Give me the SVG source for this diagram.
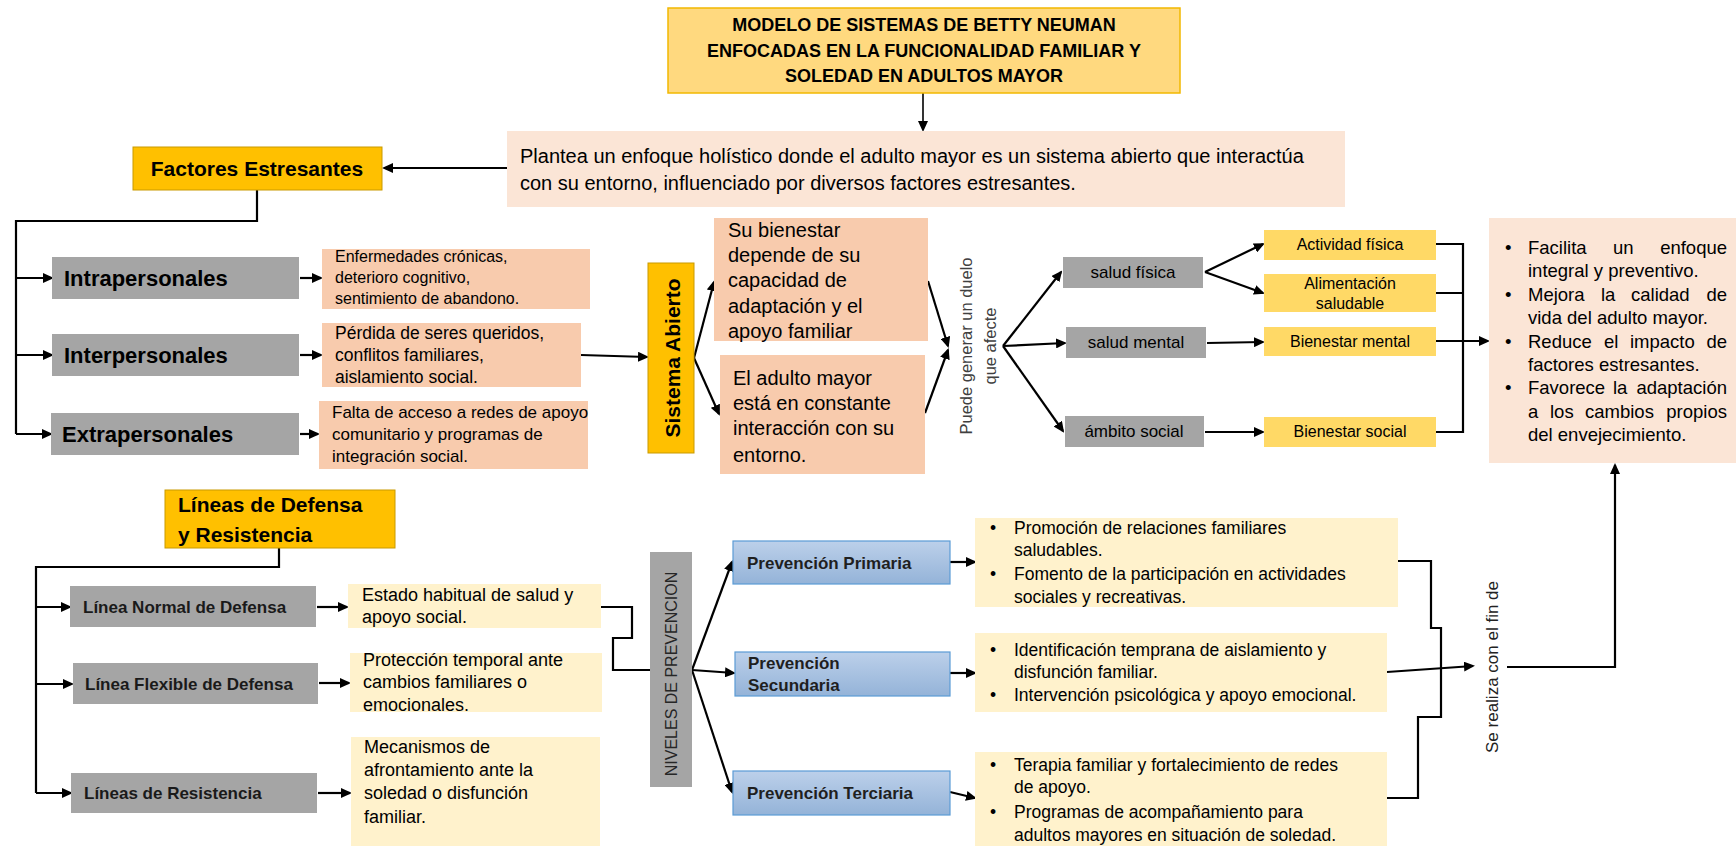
<svg xmlns="http://www.w3.org/2000/svg" width="1736" height="846" viewBox="0 0 1736 846">
<defs>
<marker id="ah" markerUnits="userSpaceOnUse" markerWidth="11" markerHeight="10" refX="9" refY="5" orient="auto"><path d="M0,0 L11,5 L0,10 Z" fill="#000"/></marker>
<linearGradient id="blue" x1="0" y1="0" x2="0" y2="1"><stop offset="0" stop-color="#BCD0EA"/><stop offset="1" stop-color="#94B3D8"/></linearGradient>
</defs>
<style>
text{font-family:"Liberation Sans",Arial,sans-serif;fill:#000}
.b{font-weight:bold}
.c{stroke:#000;stroke-width:2.2;fill:none}
.a{marker-end:url(#ah)}
.gray{fill:#A5A5A5}
.salmon{fill:#F8CBAD}
.pink{fill:#FBE5D6}
.gold{fill:#FFC000;stroke:#C99A00;stroke-width:1}
.yel{fill:#FFD966}
.lyel{fill:#FFF2CC}
.blue{fill:url(#blue);stroke:#5B9BD5;stroke-width:1.2}
.rot{text-anchor:middle;dominant-baseline:central}
</style>
<rect width="1736" height="846" fill="#fff"/>

<g id="connectors">
<line class="c a" x1="923" y1="93" x2="923" y2="130" style="stroke-width:1.6"/>
<line class="c a" x1="507" y1="168" x2="384" y2="168"/>
<path class="c" d="M257,190 V221 H16 V434"/>
<line class="c a" x1="16" y1="278" x2="52" y2="278"/>
<line class="c a" x1="16" y1="355" x2="52" y2="355"/>
<line class="c a" x1="16" y1="434" x2="51" y2="434"/>
<line class="c a" x1="300" y1="278" x2="321" y2="278"/>
<line class="c a" x1="300" y1="355" x2="321" y2="355"/>
<line class="c a" x1="300" y1="434" x2="318" y2="434"/>
<line class="c a" x1="581" y1="355" x2="647" y2="357"/>
<line class="c a" x1="694" y1="358" x2="714" y2="282"/>
<line class="c a" x1="694" y1="358" x2="719" y2="414"/>
<line class="c a" x1="928" y1="281" x2="948" y2="346"/>
<line class="c a" x1="925" y1="413" x2="948" y2="350"/>
<line class="c a" x1="1003" y1="346" x2="1061" y2="272"/>
<line class="c a" x1="1003" y1="346" x2="1065" y2="343"/>
<line class="c a" x1="1003" y1="346" x2="1063" y2="431"/>
<line class="c a" x1="1205" y1="272" x2="1263" y2="244"/>
<line class="c a" x1="1205" y1="272" x2="1263" y2="293"/>
<line class="c a" x1="1207" y1="343" x2="1263" y2="342"/>
<line class="c a" x1="1205" y1="432" x2="1263" y2="432"/>
<path class="c" d="M1436,244 H1463 V432 H1436 M1436,293 H1463"/>
<line class="c a" x1="1436" y1="341" x2="1488" y2="341"/>
<path class="c" d="M279,548 V567 H36 V793"/>
<line class="c a" x1="36" y1="607" x2="70" y2="607"/>
<line class="c a" x1="36" y1="684" x2="72" y2="684"/>
<line class="c a" x1="36" y1="793" x2="71" y2="793"/>
<line class="c a" x1="317" y1="607" x2="347" y2="607"/>
<line class="c a" x1="319" y1="683" x2="349" y2="683"/>
<line class="c a" x1="318" y1="793" x2="350" y2="793"/>
<path class="c" d="M601,607 H632 V638 H613 V670 H650"/>
<line class="c a" x1="692" y1="670" x2="732" y2="562"/>
<line class="c a" x1="692" y1="670" x2="734" y2="673"/>
<line class="c a" x1="692" y1="670" x2="732" y2="792"/>
<line class="c a" x1="950" y1="562" x2="975" y2="562"/>
<line class="c a" x1="950" y1="673" x2="975" y2="673"/>
<line class="c a" x1="950" y1="792" x2="975" y2="798"/>
<path class="c" d="M1398,561 H1431 V628 H1441 V717 H1418 V798 H1387"/>
<line class="c a" x1="1387" y1="672" x2="1473" y2="666"/>
<path class="c a" d="M1507,667 H1615 V465"/>
</g>

<g id="title">
<rect x="668" y="8" width="512" height="85" fill="#FFD97F" stroke="#F2B800" stroke-width="1.5"/>
<text class="b" font-size="18" text-anchor="middle"><tspan x="924" y="31">MODELO DE SISTEMAS DE BETTY NEUMAN</tspan><tspan x="924" y="57">ENFOCADAS EN LA FUNCIONALIDAD FAMILIAR Y</tspan><tspan x="924" y="82">SOLEDAD EN ADULTOS MAYOR</tspan></text>
</g>

<g id="plantea">
<rect class="pink" x="507" y="131" width="838" height="76"/>
<text font-size="20"><tspan x="520" y="163">Plantea un enfoque holístico donde el adulto mayor es un sistema abierto que interactúa</tspan><tspan x="520" y="190">con su entorno, influenciado por diversos factores estresantes.</tspan></text>
</g>

<g id="factores">
<rect class="gold" x="133" y="147" width="249" height="43"/>
<text class="b" font-size="21" x="257" y="176" text-anchor="middle">Factores Estresantes</text>
</g>

<g id="intrapersonales">
<rect class="gray" x="52" y="257" width="247" height="42"/>
<text class="b" font-size="22" x="64" y="286">Intrapersonales</text>
</g>
<g id="interpersonales">
<rect class="gray" x="52" y="334" width="247" height="42"/>
<text class="b" font-size="22" x="64" y="363">Interpersonales</text>
</g>
<g id="extrapersonales">
<rect class="gray" x="51" y="413" width="248" height="42"/>
<text class="b" font-size="22" x="62" y="442">Extrapersonales</text>
</g>

<g id="enfermedades">
<rect class="salmon" x="322" y="249" width="268" height="60"/>
<text font-size="16"><tspan x="335" y="262">Enfermedades crónicas,</tspan><tspan x="335" y="283">deterioro cognitivo,</tspan><tspan x="335" y="304">sentimiento de abandono.</tspan></text>
</g>
<g id="perdida">
<rect class="salmon" x="322" y="323" width="259" height="64"/>
<text font-size="17.5"><tspan x="335" y="339">Pérdida de seres queridos,</tspan><tspan x="335" y="361">conflitos familiares,</tspan><tspan x="335" y="383">aislamiento social.</tspan></text>
</g>
<g id="falta">
<rect class="salmon" x="319" y="401" width="269" height="68"/>
<text font-size="17"><tspan x="332" y="418">Falta de acceso a redes de apoyo</tspan><tspan x="332" y="440">comunitario y programas de</tspan><tspan x="332" y="462">integración social.</tspan></text>
</g>

<g id="sistema-abierto">
<rect class="gold" x="648" y="263" width="46" height="190"/>
<text class="b rot" font-size="21" transform="translate(672,358) rotate(-90)">Sistema Abierto</text>
</g>

<g id="su-bienestar">
<rect class="salmon" x="714" y="218" width="214" height="123"/>
<text font-size="20"><tspan x="728" y="237">Su bienestar</tspan><tspan x="728" y="262">depende de su</tspan><tspan x="728" y="287">capacidad de</tspan><tspan x="728" y="313">adaptación y el</tspan><tspan x="728" y="338">apoyo familiar</tspan></text>
</g>
<g id="el-adulto">
<rect class="salmon" x="720" y="355" width="205" height="119"/>
<text font-size="20"><tspan x="733" y="385">El adulto mayor</tspan><tspan x="733" y="410">está en constante</tspan><tspan x="733" y="435">interacción con su</tspan><tspan x="733" y="462">entorno.</tspan></text>
</g>

<g id="puede">
<text class="rot" font-size="16.5" style="fill:#404040" transform="translate(966,346) rotate(-90)">Puede generar un duelo</text>
<text class="rot" font-size="16.5" style="fill:#404040" transform="translate(990,346) rotate(-90)">que afecte</text>
</g>

<g id="salud-fisica">
<rect class="gray" x="1063" y="257" width="140" height="31"/>
<text font-size="17" x="1133" y="278" text-anchor="middle">salud física</text>
</g>
<g id="salud-mental">
<rect class="gray" x="1066" y="327" width="140" height="31"/>
<text font-size="17" x="1136" y="348" text-anchor="middle">salud mental</text>
</g>
<g id="ambito-social">
<rect class="gray" x="1065" y="416" width="139" height="31"/>
<text font-size="17" x="1134" y="437" text-anchor="middle">ámbito social</text>
</g>

<g id="actividad">
<rect class="yel" x="1264" y="230" width="172" height="30"/>
<text font-size="16" x="1350" y="250" text-anchor="middle">Actividad física</text>
</g>
<g id="alimentacion">
<rect class="yel" x="1264" y="274" width="172" height="38"/>
<text font-size="16" text-anchor="middle"><tspan x="1350" y="289">Alimentación</tspan><tspan x="1350" y="309">saludable</tspan></text>
</g>
<g id="bienestar-mental">
<rect class="yel" x="1264" y="327" width="172" height="29"/>
<text font-size="16" x="1350" y="347" text-anchor="middle">Bienestar mental</text>
</g>
<g id="bienestar-social">
<rect class="yel" x="1264" y="417" width="172" height="30"/>
<text font-size="16" x="1350" y="437" text-anchor="middle">Bienestar social</text>
</g>

<g id="beneficios">
<rect class="pink" x="1489" y="218" width="247" height="245"/>
<g font-size="18.5">
<text x="1505" y="254">•</text><text x="1528" y="254">Facilita</text><text x="1613" y="254">un</text><text x="1727" y="254" text-anchor="end">enfoque</text>
<text x="1528" y="277">integral y preventivo.</text>
<text x="1505" y="301">•</text><text x="1528" y="301">Mejora</text><text x="1601" y="301">la</text><text x="1631" y="301">calidad</text><text x="1727" y="301" text-anchor="end">de</text>
<text x="1528" y="324">vida del adulto mayor.</text>
<text x="1505" y="348">•</text><text x="1528" y="348">Reduce</text><text x="1604" y="348">el</text><text x="1630" y="348">impacto</text><text x="1727" y="348" text-anchor="end">de</text>
<text x="1528" y="371">factores estresantes.</text>
<text x="1505" y="394">•</text><text x="1528" y="394">Favorece</text><text x="1613" y="394">la</text><text x="1727" y="394" text-anchor="end">adaptación</text>
<text x="1528" y="418">a</text><text x="1550" y="418">los</text><text x="1585" y="418">cambios</text><text x="1727" y="418" text-anchor="end">propios</text>
<text x="1528" y="441">del envejecimiento.</text>
</g>
</g>

<g id="lineas-defensa">
<rect class="gold" x="165" y="490" width="230" height="58"/>
<text class="b" font-size="21"><tspan x="178" y="512">Líneas de Defensa</tspan><tspan x="178" y="542">y Resistencia</tspan></text>
</g>

<g id="linea-normal">
<rect class="gray" x="70" y="586" width="246" height="41"/>
<text class="b" font-size="17" x="83" y="613" style="fill:#1a1a1a">Línea Normal de Defensa</text>
</g>
<g id="linea-flexible">
<rect class="gray" x="73" y="663" width="245" height="41"/>
<text class="b" font-size="17" x="85" y="690" style="fill:#1a1a1a">Línea Flexible de Defensa</text>
</g>
<g id="lineas-resistencia">
<rect class="gray" x="71" y="773" width="246" height="40"/>
<text class="b" font-size="17" x="84" y="799" style="fill:#1a1a1a">Líneas de Resistencia</text>
</g>

<g id="estado">
<rect class="lyel" x="348" y="584" width="253" height="44"/>
<text font-size="18"><tspan x="362" y="601">Estado habitual de salud y</tspan><tspan x="362" y="623">apoyo social.</tspan></text>
</g>
<g id="proteccion">
<rect class="lyel" x="350" y="653" width="252" height="59"/>
<text font-size="18"><tspan x="363" y="666">Protección temporal ante</tspan><tspan x="363" y="688">cambios familiares o</tspan><tspan x="363" y="711">emocionales.</tspan></text>
</g>
<g id="mecanismos">
<rect class="lyel" x="351" y="737" width="249" height="109"/>
<text font-size="18"><tspan x="364" y="753">Mecanismos de</tspan><tspan x="364" y="776">afrontamiento ante la</tspan><tspan x="364" y="799">soledad o disfunción</tspan><tspan x="364" y="823">familiar.</tspan></text>
</g>

<g id="niveles">
<rect class="gray" x="650" y="552" width="42" height="235"/>
<text class="rot" font-size="16" style="fill:#262626" transform="translate(671,674) rotate(-90)">NIVELES DE PREVENCION</text>
</g>

<g id="primaria">
<rect class="blue" x="733" y="541" width="217" height="43"/>
<text class="b" font-size="17" x="747" y="569" style="fill:#1f1f1f">Prevención Primaria</text>
</g>
<g id="secundaria">
<rect class="blue" x="735" y="652" width="215" height="44"/>
<text class="b" font-size="17" style="fill:#1f1f1f"><tspan x="748" y="669">Prevención</tspan><tspan x="748" y="691">Secundaria</tspan></text>
</g>
<g id="terciaria">
<rect class="blue" x="733" y="771" width="217" height="44"/>
<text class="b" font-size="17" x="747" y="799" style="fill:#1f1f1f">Prevención Terciaria</text>
</g>

<g id="primaria-texto">
<rect class="lyel" x="975" y="518" width="423" height="89"/>
<g font-size="17.5">
<text x="990" y="534">•</text><text x="1014" y="534">Promoción de relaciones familiares</text>
<text x="1014" y="556">saludables.</text>
<text x="990" y="580">•</text><text x="1014" y="580">Fomento de la participación en actividades</text>
<text x="1014" y="603">sociales y recreativas.</text>
</g>
</g>
<g id="secundaria-texto">
<rect class="lyel" x="975" y="633" width="412" height="79"/>
<g font-size="17.5">
<text x="990" y="656">•</text><text x="1014" y="656">Identificación temprana de aislamiento y</text>
<text x="1014" y="678">disfunción familiar.</text>
<text x="990" y="701">•</text><text x="1014" y="701">Intervención psicológica y apoyo emocional.</text>
</g>
</g>
<g id="terciaria-texto">
<rect class="lyel" x="975" y="752" width="412" height="94"/>
<g font-size="17.5">
<text x="990" y="771">•</text><text x="1014" y="771">Terapia familiar y fortalecimiento de redes</text>
<text x="1014" y="793">de apoyo.</text>
<text x="990" y="818">•</text><text x="1014" y="818">Programas de acompañamiento para</text>
<text x="1014" y="841">adultos mayores en situación de soledad.</text>
</g>
</g>

<g id="se-realiza">
<text class="rot" font-size="17" style="fill:#222" transform="translate(1492,667) rotate(-90)">Se realiza con el fin de</text>
</g>
</svg>
